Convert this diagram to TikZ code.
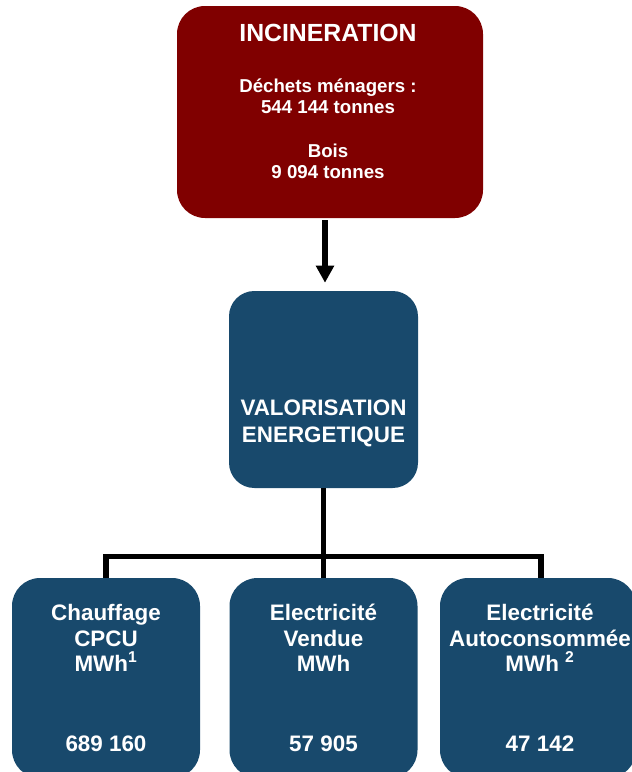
\documentclass[tikz,border=0pt]{standalone}
\usepackage{fontspec}
\setmainfont{Liberation Sans}
\usetikzlibrary{arrows.meta}
\definecolor{rougeinc}{RGB}{128,0,0}
\definecolor{bleuval}{RGB}{24,73,108}
\tikzset{
	boite/.style={rounded corners=21pt, inner sep=0pt},
	texte/.style={text=white, anchor=base, inner sep=0pt, font=\bfseries\fontsize{16.8}{19}\selectfont},
	liaison/.style={line width=4.2pt},
	fleche/.style={line width=4.6pt, -{Triangle[length=12.75pt,width=13pt]}, shorten >=6pt, shorten <=1.5pt}
}
\begin{document}
\begin{tikzpicture}[x=0.75pt, y=-0.75pt]
			%%%%% START %%%%%
			\useasboundingbox (0, 0) rectangle (632, 772);
			\clip (0, 0) rectangle (632, 772);
			
			\node[boite, fill=rougeinc, minimum width=229.5pt, minimum height=159pt] (incin) at (330, 112) {};
			\node[texte, font=\bfseries\fontsize{18.6}{21}\selectfont] (titre) at (328, 41) {INCINERATION};
			\node[texte, font=\bfseries\fontsize{14}{16}\selectfont] (dechets) at (328, 92) {Déchets ménagers :};
			\node[texte, font=\bfseries\fontsize{14}{16}\selectfont] (tdechets) at (328, 113) {544 144 tonnes};
			\node[texte, font=\bfseries\fontsize{14}{16}\selectfont] (bois) at (328, 157) {Bois};
			\node[texte, font=\bfseries\fontsize{14}{16}\selectfont] (tbois) at (328, 178) {9 094 tonnes};
			
			\node[boite, rounded corners=19pt, fill=bleuval, minimum width=141.75pt, minimum height=147.75pt] (valo) at (323.5, 389.5) {};
			\node[texte] (valo1) at (323.5, 415) {VALORISATION};
			\node[texte] (valo2) at (323.5, 442) {ENERGETIQUE};
			
			\draw[fleche] (incin.south -| 325, 0) -- (valo.north -| 325, 0);
			
			\node[boite, fill=bleuval, minimum width=141pt, minimum height=150pt] (chauf) at (106, 678) {};
			\node[boite, fill=bleuval, minimum width=141pt, minimum height=150pt] (vendue) at (323.5, 678) {};
			\node[boite, fill=bleuval, minimum width=147pt, minimum height=150pt] (auto) at (538, 678) {};
			
			\node[texte] (chauf1) at (106, 620) {Chauffage};
			\node[texte] (chauf2) at (106, 646) {CPCU};
			\node[texte] (chauf3) at (106, 671) {MWh\textsuperscript{1}};
			\node[texte] (chauf4) at (106, 751) {689 160};
			
			\node[texte] (vendue1) at (323.5, 620) {Electricité};
			\node[texte] (vendue2) at (323.5, 646) {Vendue};
			\node[texte] (vendue3) at (323.5, 671) {MWh};
			\node[texte] (vendue4) at (323.5, 751) {57 905};
			
			\node[texte] (auto1) at (540, 620) {Electricité};
			\node[texte] (auto2) at (540, 646) {Autoconsommée};
			\node[texte] (auto3) at (540, 671) {MWh \textsuperscript{2}};
			\node[texte] (auto4) at (540, 751) {47 142};
			
			\coordinate (barre) at (323.5, 556.5);
			\draw[liaison] (valo.south -| barre) -- (barre);
			\draw[liaison] (chauf.north -| 106, 0) |- (barre) -| (auto.north -| 541, 0);
			\draw[liaison] (barre) -- (vendue.north -| barre);
			%%%%% END %%%%%
\end{tikzpicture}
\end{document}
